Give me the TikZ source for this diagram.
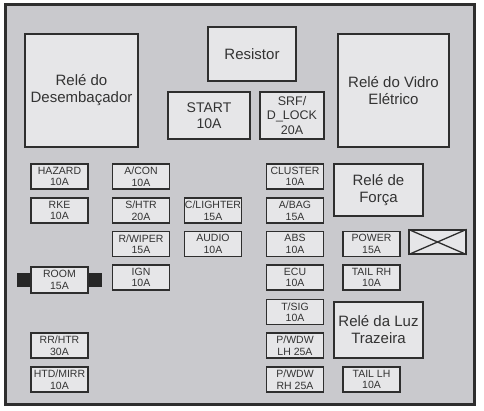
\documentclass[tikz,border=0pt]{standalone}
\usepackage{fontspec}
\setmainfont{Liberation Sans}
\usepackage{tikz}

\definecolor{panel}{HTML}{C9C9CD}
\definecolor{boxfill}{HTML}{E6E6E8}
\definecolor{edge}{HTML}{2E2E2E}
\definecolor{ink}{HTML}{333333}

\tikzset{
	fuse/.style={shape=rectangle, draw=edge, fill=boxfill, line width=1.3pt,
		minimum width=57pt, minimum height=25pt, inner sep=0pt, align=center,
		text=ink, font=\fontsize{10.5}{11.5}\selectfont},
	relay/.style={shape=rectangle, draw=edge, fill=boxfill, line width=1.3pt,
		inner sep=0pt, align=center, text=ink, font=\fontsize{15}{17}\selectfont},
	tab/.style={shape=rectangle, fill=black!85, minimum width=14pt, minimum height=14pt, inner sep=0pt}
}

\begin{document}
\begin{tikzpicture}[x=1pt, y=-1pt]
	
	\useasboundingbox (0,0) rectangle (484,411);
	\draw[fill=panel, draw=edge, line width=3pt] (5,5) rectangle (474,404);
	
	% relays and big blocks
	\node[relay, minimum width=113pt, minimum height=113pt] (desemb) at (81.5, 90.5)  {Relé do\\Desembaçador};
	\node[relay, minimum width=88pt, minimum height=54pt]   (resist) at (252, 54)     {Resistor};
	\node[relay, minimum width=82pt, minimum height=47pt, font=\fontsize{14}{16}\selectfont] (start) at (209, 115.5) {START\\10A};
	\node[relay, minimum width=64pt, minimum height=47pt, font=\fontsize{12.5}{14.5}\selectfont] (srf) at (292, 115.5) {SRF/\\D\_LOCK\\20A};
	\node[relay, minimum width=111pt, minimum height=113pt] (vidro)  at (393.5, 90.5) {Relé do Vidro\\Elétrico};
	\node[relay, minimum width=89pt, minimum height=52pt]   (forca)  at (378.5, 190)  {Relé de\\Força};
	\node[relay, minimum width=89pt, minimum height=56pt]   (luz)    at (378.5, 330)  {Relé da Luz\\Trazeira};
	
	% spare slot
	\node[fuse, minimum height=24pt] (spare) at (437.5, 242) {};
	\draw[edge, line width=1.3pt] (spare.north west) -- (spare.south east);
	\draw[edge, line width=1.3pt] (spare.south west) -- (spare.north east);
	
	% left fuses
	\node[fuse] (hazard)  at (59.5, 176.5) {HAZARD\\10A};
	\node[fuse] (rke)     at (59.5, 210.5) {RKE\\10A};
	\node[tab]  (roomL)   at (24, 280)     {};
	\node[tab]  (roomR)   at (95, 280)     {};
	\node[fuse, minimum height=26pt] (room) at (59.5, 280) {ROOM\\15A};
	\node[fuse] (rrhtr)   at (59.5, 345.5) {RR/HTR\\30A};
	\node[fuse] (htdmirr) at (59.5, 379.5) {HTD/MIRR\\10A};
	
	\node[fuse] (acon)    at (141, 176.5)  {A/CON\\10A};
	\node[fuse] (shtr)    at (141, 210.5)  {S/HTR\\20A};
	\node[fuse] (rwiper)  at (141, 244)    {R/WIPER\\15A};
	\node[fuse] (ign)     at (141, 277.5)  {IGN\\10A};
	
	\node[fuse] (clight)  at (213, 210.5)  {C/LIGHTER\\15A};
	\node[fuse] (audio)   at (213, 244)    {AUDIO\\10A};
	
	% right fuses
	\node[fuse] (cluster) at (295, 176.5)  {CLUSTER\\10A};
	\node[fuse] (abag)    at (295, 210.5)  {A/BAG\\15A};
	\node[fuse] (abs)     at (295, 244)    {ABS\\10A};
	\node[fuse] (ecu)     at (295, 277.5)  {ECU\\10A};
	\node[fuse] (tsig)    at (295, 312)    {T/SIG\\10A};
	\node[fuse] (pwdwlh)  at (295, 345.5)  {P/WDW\\LH 25A};
	\node[fuse] (pwdwrh)  at (295, 379.5)  {P/WDW\\RH 25A};
	
	\node[fuse] (power)   at (371.5, 244)   {POWER\\15A};
	\node[fuse] (tailrh)  at (371.5, 277.5) {TAIL RH\\10A};
	\node[fuse] (taillh)  at (371.5, 379.5) {TAIL LH\\10A};
	
\end{tikzpicture}
\end{document}
